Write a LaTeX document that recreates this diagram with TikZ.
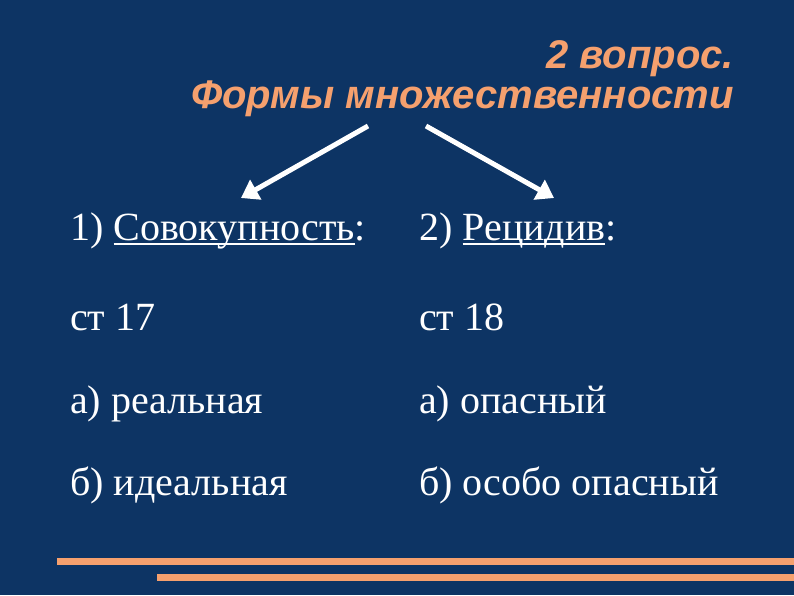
\documentclass[tikz,border=0pt]{standalone}
\usepackage{fontspec}
\setmainfont{Liberation Serif}
\newfontfamily\titlefont{Liberation Sans}
\usetikzlibrary{arrows.meta}
\definecolor{bg}{RGB}{13,52,100}
\definecolor{org}{RGB}{245,160,110}
\newcommand\myul[1]{\setbox0\hbox{#1}\rlap{\rule[-4.5pt]{\wd0}{1.8pt}}\box0}
\begin{document}
\begin{tikzpicture}[x=1pt,y=-1pt,
  body/.style={anchor=base west,inner sep=0pt,text=white,font=\fontsize{40}{48}\selectfont},
  ttl/.style={anchor=base east,inner sep=0pt,text=org,font=\titlefont\bfseries\itshape\fontsize{40}{48}\selectfont},
  arr/.style={draw=white,line width=5pt,-{Triangle[length=17pt,width=22pt]}},
  bar/.style={draw=org,line width=7pt}]
\fill[bg] (0,0) rectangle (794,595);
\useasboundingbox (0,0) rectangle (794,595);
% title
\node[ttl] (t1) at (734,68) {2 вопрос.};
\node[ttl] (t2) at (734,108) {Формы множественности};
% arrows
\coordinate (a1s) at (368,126);
\coordinate (a1e) at (241,198);
\coordinate (a2s) at (426,126);
\coordinate (a2e) at (554,198);
\draw[arr] (a1s) -- (a1e);
\draw[arr] (a2s) -- (a2e);
% columns
\node[body] (l1) at (70,240) {1) \myul{Совокупность}:};
\node[body] (l2) at (70,330) {ст 17};
\node[body] (l3) at (70,413) {а) реальная};
\node[body] (l4) at (70,495) {б) идеальная};
\node[body] (r1) at (419,240) {2) \myul{Рецидив}:};
\node[body] (r2) at (419,330) {ст 18};
\node[body] (r3) at (419,413) {а) опасный};
\node[body] (r4) at (419,495) {б) особо опасный};
% bottom bars
\coordinate (b1s) at (57,561);
\coordinate (b1e) at (794,561);
\coordinate (b2s) at (157,577);
\coordinate (b2e) at (794,577);
\draw[bar] (b1s) -- (b1e);
\draw[bar] (b2s) -- (b2e);
\end{tikzpicture}
\end{document}
